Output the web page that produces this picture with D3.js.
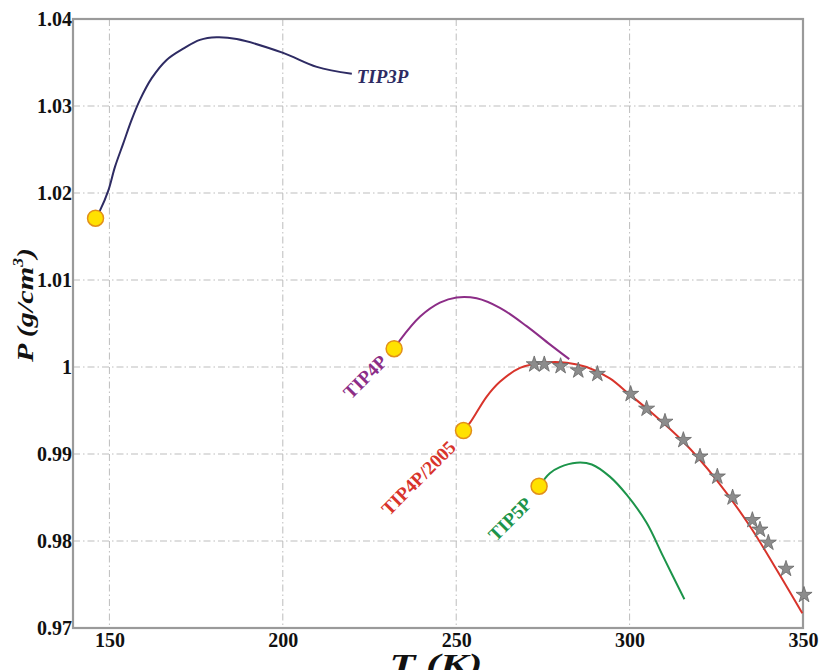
<!DOCTYPE html>
<html>
<head>
<meta charset="utf-8">
<script src="https://cdn.jsdelivr.net/npm/d3@7"></script>
<style>
  body { margin: 0; background: #fff; }
  svg { display: block; }
</style>
</head>
<body>
<div id="chart"></div>
<script>
// values
const tip3pT = [146.0, 147.3, 149.7, 151.6, 154.0, 156.4, 158.8, 162.2, 166.5, 171.3, 176.1, 180.9, 186.7, 200.1, 209.8, 219.9];
const tip3pRho = [1.0171, 1.0180, 1.0203, 1.0230, 1.0257, 1.0284, 1.0307, 1.0332, 1.0353, 1.0366, 1.0376, 1.0379, 1.0377, 1.0361, 1.0345, 1.0337];

const tip4pT = [232.1, 233.8, 239.6, 245.3, 250.1, 255.9, 262.6, 270.3, 277.0, 282.6];
const tip4pRho = [1.0021, 1.0031, 1.0058, 1.0074, 1.0080, 1.0079, 1.0068, 1.0047, 1.0026, 1.0009];

const tip2005T = [252.1, 254.0, 258.8, 262.6, 268.4, 275.1, 281.9, 287.6, 294.3, 300.1, 305.9, 315.5, 325.1, 334.7, 342.4, 349.8];
const tip2005Rho = [0.9927, 0.9936, 0.9966, 0.9983, 0.9999, 1.0005, 1.0005, 1.0000, 0.9987, 0.9968, 0.9949, 0.9914, 0.9870, 0.9817, 0.9767, 0.9717];

const tip5pT = [273.9, 277.0, 279.9, 284.7, 289.1, 294.3, 299.2, 304.9, 309.7, 315.8];
const tip5pRho = [0.9863, 0.9878, 0.9885, 0.9890, 0.9888, 0.9874, 0.9853, 0.9821, 0.9782, 0.9733];

// experimental points (stars)
const expT = [272.5, 275.4, 280.1, 285.2, 290.7, 300.3, 304.9, 310.2, 315.5, 320.3, 325.3, 329.7, 335.4, 337.6, 340.0, 345.1, 350.3];
const expRho = [1.0003, 1.0003, 1.0001, 0.9996, 0.9992, 0.9969, 0.9952, 0.9937, 0.9916, 0.9897, 0.9874, 0.9850, 0.9824, 0.9813, 0.9798, 0.9768, 0.9738];

const xTicks = [150, 200, 250, 300, 350];
const yTicks = [0.97, 0.98, 0.99, 1, 1.01, 1.02, 1.03, 1.04];
const yTickLabels = ["0.97", "0.98", "0.99", "1", "1.01", "1.02", "1.03", "1.04"];

const models = ["TIP3P", "TIP4P", "TIP4P/2005", "TIP5P"];
const modelColors = ["#2e2b63", "#8c2d87", "#d8342b", "#1c944a"];
const labelT = [221.3, 223.7, 239.1, 265.5];
const labelRho = [1.0327, 0.99889, 0.98726, 0.98254];

const width = 824;
const height = 670;
const margin = { top: 19, right: 21, bottom: 42, left: 73 };

const series = [
  [tip3pT, tip3pRho],
  [tip4pT, tip4pRho],
  [tip2005T, tip2005Rho],
  [tip5pT, tip5pRho],
].map(([t, r]) => t.map((d, i) => [d, r[i]]));

const x = d3.scaleLinear()
  .domain([139.5, 350])
  .range([margin.left, width - margin.right]);

const y = d3.scaleLinear()
  .domain([0.97, 1.04])
  .range([height - margin.bottom, margin.top]);

const svg = d3.select("#chart")
  .append("svg")
  .attr("width", width)
  .attr("height", height);

// grid
const grid = svg.append("g").attr("class", "grid")
  .attr("stroke", "#bdbdbd")
  .attr("stroke-width", 1)
  .attr("stroke-dasharray", "7,3,1.5,3");

grid.selectAll(".vx")
  .data(xTicks.filter((d) => d < 350))
  .enter()
  .append("line")
  .attr("x1", (d) => x(d))
  .attr("x2", (d) => x(d))
  .attr("y1", y(1.04))
  .attr("y2", y(0.97));

grid.selectAll(".hy")
  .data(yTicks.filter((d) => d > 0.97 && d < 1.04))
  .enter()
  .append("line")
  .attr("x1", x(139.5))
  .attr("x2", x(350))
  .attr("y1", (d) => y(d))
  .attr("y2", (d) => y(d));

// frame
svg.append("rect")
  .attr("x", x(139.5))
  .attr("y", y(1.04))
  .attr("width", x(350) - x(139.5))
  .attr("height", y(0.97) - y(1.04))
  .attr("fill", "none")
  .attr("stroke", "#9a9a9a")
  .attr("stroke-width", 2.2);

// axes
const font = "Liberation Serif";

const xAxis = svg.append("g")
  .attr("transform", `translate(0,${y(0.97)})`)
  .call(d3.axisBottom(x).tickValues(xTicks).tickSize(0).tickPadding(5).tickFormat(d3.format("d")));
xAxis.select(".domain").remove();
xAxis.selectAll("text")
  .attr("font-family", font)
  .attr("font-weight", "bold")
  .attr("font-size", 20)
  .attr("fill", "#111");

const yAxis = svg.append("g")
  .attr("transform", `translate(${x(139.5)},0)`)
  .call(d3.axisLeft(y).tickValues(yTicks).tickSize(0).tickPadding(1)
    .tickFormat((d, i) => yTickLabels[i]));
yAxis.select(".domain").remove();
yAxis.selectAll("text")
  .attr("font-family", font)
  .attr("font-weight", "bold")
  .attr("font-size", 20)
  .attr("fill", "#111");

// curves
const line = d3.line()
  .curve(d3.curveCatmullRom.alpha(0.5))
  .x((d) => x(d[0]))
  .y((d) => y(d[1]));

svg.append("g")
  .selectAll("path")
  .data(series)
  .enter()
  .append("path")
  .attr("fill", "none")
  .attr("stroke", (d, i) => modelColors[i])
  .attr("stroke-width", 2)
  .attr("d", line);

// stars
const star = d3.symbol().type(d3.symbolStar).size(80);
svg.append("g")
  .selectAll("path")
  .data(expT.map((d, i) => [d, expRho[i]]))
  .enter()
  .append("path")
  .attr("d", star)
  .attr("transform", (d) => `translate(${x(d[0])},${y(d[1])})`)
  .attr("fill", "#8c8c8c")
  .attr("stroke", "#666")
  .attr("stroke-width", 0.8);

// start points
svg.append("g")
  .selectAll("circle")
  .data(series)
  .enter()
  .append("circle")
  .attr("cx", (d) => x(d[0][0]))
  .attr("cy", (d) => y(d[0][1]))
  .attr("r", 8)
  .attr("fill", "#ffe100")
  .attr("stroke", "#e2901a")
  .attr("stroke-width", 1.5);

// model labels
svg.append("g")
  .selectAll("text")
  .data(models)
  .enter()
  .append("text")
  .attr("transform", (d, i) =>
    i === 0
      ? `translate(${x(labelT[i])},${y(labelRho[i])})`
      : `translate(${x(labelT[i])},${y(labelRho[i])}) rotate(-45)`)
  .attr("text-anchor", (d, i) => (i === 0 ? "start" : "middle"))
  .attr("dy", (d, i) => (i === 0 ? 0 : "0.35em"))
  .attr("font-family", font)
  .attr("font-weight", "bold")
  .attr("font-style", (d, i) => (i === 0 ? "italic" : "normal"))
  .attr("font-size", 19)
  .attr("fill", (d, i) => modelColors[i])
  .text((d) => d);

// axis titles
const yTitle = svg.append("text")
  .attr("transform", `translate(33,305) rotate(-90)`)
  .attr("text-anchor", "middle")
  .attr("font-family", font)
  .attr("font-weight", "bold")
  .attr("font-style", "italic")
  .attr("font-size", 24)
  .attr("textLength", 114)
  .attr("lengthAdjust", "spacingAndGlyphs")
  .attr("fill", "#111");
yTitle.append("tspan").text("P (g/cm");
yTitle.append("tspan").attr("font-size", 14).attr("dy", -10).text("3");
yTitle.append("tspan").attr("dy", 10).text(")");

svg.append("text")
  .attr("x", 436)
  .attr("y", 674)
  .attr("text-anchor", "middle")
  .attr("font-family", font)
  .attr("font-weight", "bold")
  .attr("font-style", "italic")
  .attr("font-size", 30)
  .attr("textLength", 93)
  .attr("lengthAdjust", "spacingAndGlyphs")
  .attr("fill", "#111")
  .text("T (K)");
</script>
</body>
</html>
